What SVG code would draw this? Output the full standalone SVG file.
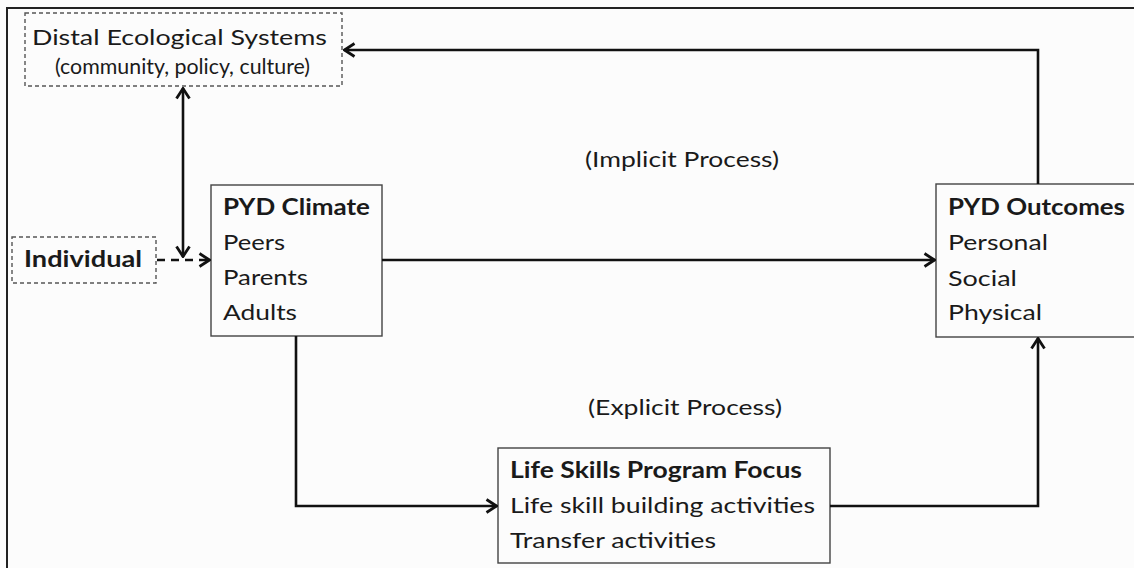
<svg xmlns="http://www.w3.org/2000/svg" width="1134" height="568" viewBox="0 0 1134 568">
  <style>
    .t { font-family: Lato, "Liberation Sans", sans-serif; fill: #1a1a1a; font-size: 22px; }
    .b { font-weight: bold; }
    .box { fill: none; stroke: #444; stroke-width: 1.4; }
    .dbox { fill: none; stroke: #555; stroke-width: 1.4; stroke-dasharray: 4 3; }
    .c { fill: none; stroke: #111; stroke-width: 2.6; }
    .dc { fill: none; stroke: #111; stroke-width: 2.4; stroke-dasharray: 8 6; }
  </style>
  <defs>
    <marker id="arr" viewBox="0 0 13 16" refX="12" refY="8" markerWidth="13" markerHeight="16" markerUnits="userSpaceOnUse" orient="auto-start-reverse">
      <path d="M1.5,1.5 L11.5,8 L1.5,14.5" fill="none" stroke="#111" stroke-width="2.8" stroke-dasharray="none"/>
    </marker>
  </defs>
  <rect x="0" y="0" width="1134" height="568" fill="#fcfcfc"/>
  <g id="frame">
    <path d="M7,568 L7,8 L1134,8" fill="none" stroke="#222" stroke-width="2"/>
  </g>
  <g id="distal">
    <rect class="dbox" x="25" y="13" width="317" height="73"/>
    <text class="t" x="32" y="45" font-size="25" textLength="295" lengthAdjust="spacingAndGlyphs">Distal Ecological Systems</text>
    <text class="t" x="55" y="74" font-size="19" textLength="255" lengthAdjust="spacingAndGlyphs">(community, policy, culture)</text>
  </g>
  <g id="individual">
    <rect class="dbox" x="12" y="237" width="144" height="46"/>
    <text class="t b" x="24" y="267" textLength="118" lengthAdjust="spacingAndGlyphs">Individual</text>
  </g>
  <g id="pyd-climate">
    <rect class="box" x="211" y="185" width="171" height="151"/>
    <text class="t b" x="223" y="215" textLength="147" lengthAdjust="spacingAndGlyphs">PYD Climate</text>
    <text class="t" x="223" y="250" textLength="62" lengthAdjust="spacingAndGlyphs">Peers</text>
    <text class="t" x="223" y="285" textLength="85" lengthAdjust="spacingAndGlyphs">Parents</text>
    <text class="t" x="223" y="320" textLength="74" lengthAdjust="spacingAndGlyphs">Adults</text>
  </g>
  <g id="pyd-outcomes">
    <rect class="box" x="936" y="184" width="210" height="153"/>
    <text class="t b" x="948" y="215" textLength="177" lengthAdjust="spacingAndGlyphs">PYD Outcomes</text>
    <text class="t" x="948" y="250" textLength="100" lengthAdjust="spacingAndGlyphs">Personal</text>
    <text class="t" x="948" y="286" textLength="69" lengthAdjust="spacingAndGlyphs">Social</text>
    <text class="t" x="948" y="320" textLength="94" lengthAdjust="spacingAndGlyphs">Physical</text>
  </g>
  <g id="life-skills">
    <rect class="box" x="498" y="448" width="332" height="115"/>
    <text class="t b" x="510" y="478" textLength="292" lengthAdjust="spacingAndGlyphs">Life Skills Program Focus</text>
    <text class="t" x="510" y="513" textLength="305" lengthAdjust="spacingAndGlyphs">Life skill building activities</text>
    <text class="t" x="510" y="548" textLength="206" lengthAdjust="spacingAndGlyphs">Transfer activities</text>
  </g>
  <g id="labels">
    <text class="t" x="585" y="167" textLength="194" lengthAdjust="spacingAndGlyphs">(Implicit Process)</text>
    <text class="t" x="588" y="415" textLength="194" lengthAdjust="spacingAndGlyphs">(Explicit Process)</text>
  </g>
  <g id="connectors">
    <path class="c" d="M1038,184 L1038,50 L344,50" marker-end="url(#arr)"/>
    <path class="c" d="M183,88 L183,257" marker-start="url(#arr)" marker-end="url(#arr)"/>
    <path class="dc" d="M157,260 L210,260" marker-end="url(#arr)"/>
    <path class="c" d="M382,260 L935,260" marker-end="url(#arr)"/>
    <path class="c" d="M296,336 L296,506 L497,506" marker-end="url(#arr)"/>
    <path class="c" d="M830,506 L1038,506 L1038,338" marker-end="url(#arr)"/>
  </g>
</svg>
